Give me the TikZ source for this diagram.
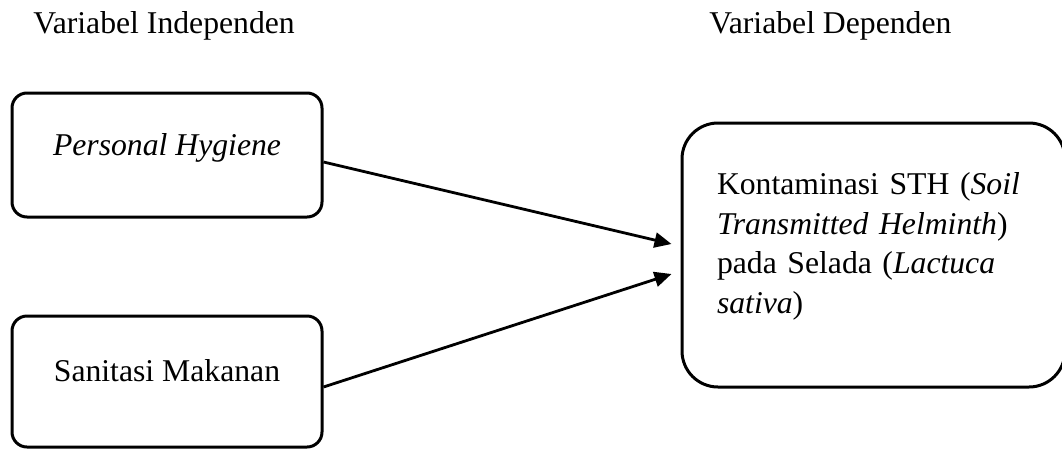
\documentclass[tikz,border=0pt]{standalone}
\usepackage{fontspec}
\setmainfont{Liberation Serif}
\usetikzlibrary{arrows.meta,positioning}

\begin{document}
\begin{tikzpicture}[x=1pt,y=-1pt,line width=2.8pt,>={Triangle[length=17pt,width=15pt]}]
    \tikzstyle{every node}=[font=\fontsize{31.7}{39.6}\selectfont]
    \tikzstyle{heading}=[inner sep=0pt,anchor=base west]
    \tikzstyle{var box}=[draw,line width=3pt,rounded corners=15pt,minimum width=310pt,inner sep=0pt,text height=12pt,text depth=12pt]
    \useasboundingbox (0,0) rectangle (1062,448);

    \node[heading] (indep) at (32,33) {Variabel Independen};
    \node[heading] (dep)   at (708,33) {Variabel Dependen};

    \node[var box,minimum height=124pt] (personal) at (167,155) {\textit{Personal Hygiene}};
    \node[var box,minimum height=131pt] (sanitasi) at (167,381.5) {Sanitasi Makanan};
    \node[var box,rounded corners=36pt,minimum width=383pt,minimum height=264pt,
          inner xsep=35pt,text width=313pt,align=left,text height=22pt,text depth=143pt]
          (kontaminasi) at (873.5,255)
          {Kontaminasi STH (\textit{Soil}\\ \textit{Transmitted Helminth})\\ pada Selada (\textit{Lactuca}\\ \textit{sativa})};

    \path[->]
    ([yshift=-7pt]personal.east) edge ([xshift=-9pt,yshift=11pt]kontaminasi.west)
    ([yshift=-5.5pt]sanitasi.east) edge ([xshift=-9pt,yshift=-19pt]kontaminasi.west);
\end{tikzpicture}
\end{document}
